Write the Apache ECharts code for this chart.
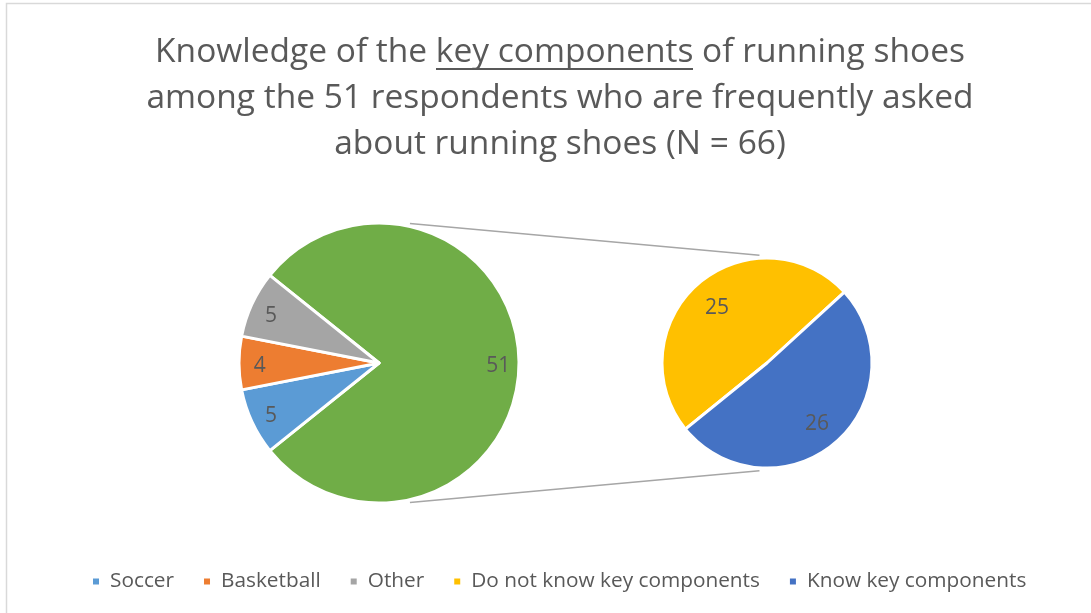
<!DOCTYPE html>
<html><head><meta charset="utf-8">
<script src="https://cdn.jsdelivr.net/npm/echarts@6/dist/echarts.min.js"></script>
<style>html,body{margin:0;padding:0;background:#fff}#c{width:1091px;height:613px}</style>
</head><body><div id="c"></div>
<script>
// ---- data ----
const titleLines = ['Knowledge of the {u|key components} of running shoes',
                    'among the 51 respondents who are frequently asked',
                    'about running shoes (N = 66)'];
const primaryNames = ['Frequently asked', 'Soccer', 'Basketball', 'Other'];
const primaryValues = [51, 5, 4, 5];
const secondaryNames = ['Do not know key components', 'Know key components'];
const secondaryValues = [25, 26];
const legendNames = ['Soccer', 'Basketball', 'Other', 'Do not know key components', 'Know key components'];

// ---- styles / layout ----
const colorMap = {
  'Frequently asked': '#70ad47', 'Soccer': '#5b9bd5', 'Basketball': '#ed7d31', 'Other': '#a5a5a5',
  'Do not know key components': '#ffc000', 'Know key components': '#4472c4'
};
const FONT = '"Open Sans", "Liberation Sans", sans-serif';
const TEXT = '#595959';
const TITLE_X = 555, TITLE_TOP = 24, TITLE_SIZE = 33.5, TITLE_LH = 46;
const L = {cx: 379, cy: 363, r: 140};
const R = {cx: 767, cy: 363, r: 105, start: 219};

const total = primaryValues.reduce((a, b) => a + b, 0);
const leftStart = primaryValues[0] / total * 360 / 2;

function mk(names, values) {
  return names.map((n, i) => ({name: n, value: values[i], itemStyle: {color: colorMap[n]}}));
}
function clear(names, values) {
  return names.map((n, i) => ({name: n, value: values[i]}));
}

// underline as a background image of the rich-text token (line near the bottom of the line box)
const ul = document.createElement('canvas');
ul.width = 4; ul.height = TITLE_LH;
const uctx = ul.getContext('2d');
uctx.fillStyle = TEXT;
uctx.fillRect(0, 39, 4, 2);

// connector lines (geometry of the two pies)
function pt(p, deg, extra) {
  const a = deg * Math.PI / 180;
  return [p.cx + (p.r + extra) * Math.cos(a), p.cy - (p.r + extra) * Math.sin(a)];
}
const lt = pt(L, 77.5, 3), lb = pt(L, -77.5, 3);
const rt = pt(R, 94, 3), rb = pt(R, -94, 3);

const labelStyle = {show: true, position: 'inside', formatter: '{c}', color: '#595959',
  fontFamily: FONT, fontSize: 21};

const chart = echarts.init(document.getElementById('c'), null, {renderer: 'canvas'});
chart.setOption({
  animation: false,
  backgroundColor: '#fff',
  title: {
    text: titleLines.join('\n'),
    left: TITLE_X, top: TITLE_TOP, textAlign: 'center',
    textStyle: {fontFamily: FONT, fontSize: TITLE_SIZE, fontWeight: 'normal', color: TEXT, lineHeight: TITLE_LH,
      rich: {u: {fontFamily: FONT, fontSize: TITLE_SIZE, color: TEXT, lineHeight: TITLE_LH, height: TITLE_LH,
                 backgroundColor: {image: ul}}}}
  },
  legend: {
    left: 86, top: 566,
    icon: 'rect', itemWidth: 8, itemHeight: 8, itemGap: 28,
    textStyle: {fontFamily: FONT, fontSize: 20.8, color: TEXT, padding: [0, 0, 0, 5]},
    data: legendNames.map(n => ({name: n, itemStyle: {color: colorMap[n]}}))
  },
  graphic: [
    {type: 'rect', silent: true, z: -10, shape: {x: 6.5, y: 3.5, width: 1200, height: 800},
     style: {fill: 'none', stroke: '#d9d9d9', lineWidth: 1.5}},
    {type: 'line', silent: true, z: -5, shape: {x1: lt[0], y1: lt[1], x2: rt[0], y2: rt[1]},
     style: {stroke: '#a6a6a6', lineWidth: 1.5}},
    {type: 'line', silent: true, z: -5, shape: {x1: lb[0], y1: lb[1], x2: rb[0], y2: rb[1]},
     style: {stroke: '#a6a6a6', lineWidth: 1.5}}
  ],
  series: [
    {type: 'pie', center: [L.cx, L.cy], radius: [0, L.r], startAngle: leftStart, clockwise: true,
     avoidLabelOverlap: false, label: {show: false}, labelLine: {show: false},
     emphasis: {disabled: true}, itemStyle: {borderColor: '#fff', borderWidth: 3},
     data: mk(primaryNames, primaryValues)},
    {type: 'pie', center: [L.cx, L.cy + 3], radius: [L.r * 0.66, L.r], startAngle: leftStart, clockwise: true,
     silent: true, avoidLabelOverlap: false, label: labelStyle, labelLine: {show: false},
     itemStyle: {color: 'rgba(0,0,0,0)', borderWidth: 0}, emphasis: {disabled: true},
     data: clear(primaryNames, primaryValues)},
    {type: 'pie', center: [R.cx, R.cy], radius: [0, R.r], startAngle: R.start, clockwise: true,
     avoidLabelOverlap: false, label: {show: false}, labelLine: {show: false},
     emphasis: {disabled: true}, itemStyle: {borderColor: '#fff', borderWidth: 3},
     data: mk(secondaryNames, secondaryValues)},
    {type: 'pie', center: [R.cx, R.cy + 3], radius: [R.r * 0.4, R.r], startAngle: R.start, clockwise: true,
     silent: true, avoidLabelOverlap: false, label: labelStyle, labelLine: {show: false},
     itemStyle: {color: 'rgba(0,0,0,0)', borderWidth: 0}, emphasis: {disabled: true},
     data: clear(secondaryNames, secondaryValues)}
  ]
});
</script></body></html>
